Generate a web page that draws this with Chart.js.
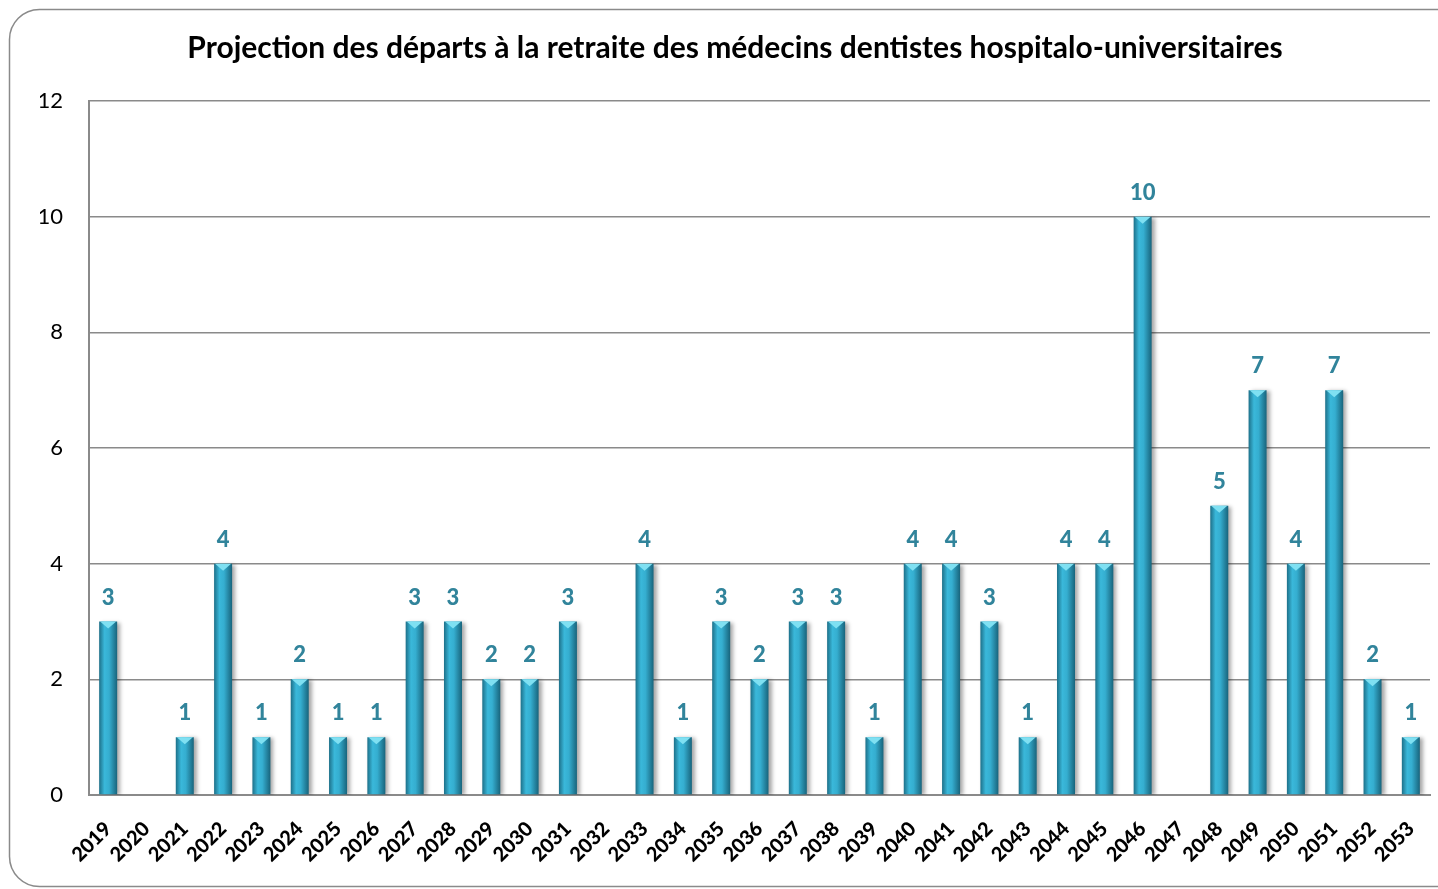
<!doctype html>
<html lang="fr">

<head>
    <meta charset="UTF-8" />
    <title>Projection des départs à la retraite</title>
    <script src="https://cdn.jsdelivr.net/npm/chart.js"></script>
    <style>
        html, body { margin: 0; padding: 0; background: #fff; }
        .chart-box { width: 1438px; height: 889px; position: relative; }
    </style>
</head>

<body>
    <div class="chart-box">
        <canvas id="retraiteChart"></canvas>
    </div>

    <script>
        // Data
        const years = ["2019", "2020", "2021", "2022", "2023", "2024", "2025", "2026", "2027", "2028",
            "2029", "2030", "2031", "2032", "2033", "2034", "2035", "2036", "2037", "2038",
            "2039", "2040", "2041", "2042", "2043", "2044", "2045", "2046", "2047", "2048",
            "2049", "2050", "2051", "2052", "2053"];
        const departs = [3, 0, 1, 4, 1, 2, 1, 1, 3, 3,
            2, 2, 3, 0, 4, 1, 3, 2, 3, 3,
            1, 4, 4, 3, 1, 4, 4, 10, 0, 5,
            7, 4, 7, 2, 1];
        const yTicks = [0, 2, 4, 6, 8, 10, 12];

        const chartTitle = "Projection des départs à la retraite des médecins dentistes hospitalo-universitaires";
        const FONT = "Lato, 'Open Sans', sans-serif";
        const BAR_PCT = 0.47;

        // horizontal cylinder-like gradient for every bar
        function barGradient(context) {
            const chart = context.chart;
            const x = chart.scales.x;
            if (!x || !chart.chartArea) return "#2ea3c4";
            const cx = x.getPixelForValue(context.dataIndex);
            const half = (x.width / years.length) * BAR_PCT / 2;
            const g = chart.ctx.createLinearGradient(cx - half, 0, cx + half, 0);
            g.addColorStop(0, "#1d7089");
            g.addColorStop(0.3, "#3ab8da");
            g.addColorStop(0.55, "#35aed0");
            g.addColorStop(1, "#18647c");
            return g;
        }

        const framePlugin = {
            id: "frame",
            beforeDraw(chart) {
                const ctx = chart.ctx;
                ctx.save();
                ctx.fillStyle = "#fff";
                ctx.fillRect(0, 0, chart.width, chart.height);
                ctx.strokeStyle = "#8a8a8a";
                ctx.lineWidth = 1.5;
                ctx.beginPath();
                ctx.roundRect(9.5, 9.5, chart.width + 40, chart.height - 12, 30);
                ctx.stroke();
                ctx.restore();
            },
            beforeDatasetsDraw(chart) {
                const ctx = chart.ctx;
                ctx.save();
                ctx.shadowColor = "rgba(0,0,0,0.35)";
                ctx.shadowOffsetX = 3;
                ctx.shadowOffsetY = 1;
                ctx.shadowBlur = 4;
            },
            afterDatasetsDraw(chart) {
                const ctx = chart.ctx;
                ctx.restore();
                const meta = chart.getDatasetMeta(0);
                ctx.save();
                meta.data.forEach((bar, i) => {
                    const v = departs[i];
                    if (!v) return;
                    // light cap on top of each bar
                    const w = bar.width;
                    ctx.fillStyle = "#7fe0f2";
                    ctx.beginPath();
                    ctx.moveTo(bar.x - w / 2 + 1, bar.y);
                    ctx.lineTo(bar.x + w / 2 - 1, bar.y);
                    ctx.lineTo(bar.x, bar.y + 7);
                    ctx.closePath();
                    ctx.fill();
                    // value label
                    ctx.fillStyle = "#31849b";
                    ctx.font = "900 22px " + FONT;
                    ctx.textAlign = "center";
                    ctx.textBaseline = "middle";
                    ctx.fillText(String(v), bar.x, bar.y - 24);
                });
                ctx.restore();
            }
        };

        new Chart(document.getElementById("retraiteChart"), {
            type: "bar",
            data: {
                labels: years,
                datasets: [{
                    label: "Départs",
                    data: departs,
                    backgroundColor: barGradient,
                    borderWidth: 0,
                    barPercentage: BAR_PCT,
                    categoryPercentage: 1
                }]
            },
            options: {
                responsive: true,
                maintainAspectRatio: false,
                animation: false,
                layout: { padding: { top: 30, left: 40, right: 8, bottom: 0 } },
                plugins: {
                    legend: { display: false },
                    tooltip: { enabled: false },
                    title: {
                        display: true,
                        text: chartTitle,
                        color: "#000",
                        font: { family: FONT, size: 30, weight: "bold" },
                        padding: { top: 0, bottom: 35 }
                    }
                },
                scales: {
                    x: {
                        grid: { display: false, drawTicks: false },
                        border: { color: "#8a8a8a", width: 2 },
                        ticks: {
                            color: "#000",
                            font: { family: FONT, size: 20, weight: "900" },
                            maxRotation: 45,
                            minRotation: 45,
                            autoSkip: false,
                            padding: 22
                        },
                        afterFit(scale) {
                            scale.height = 94;
                            scale.paddingLeft = 0;
                            scale.paddingRight = 0;
                        }
                    },
                    y: {
                        min: 0,
                        max: 12,
                        afterBuildTicks(scale) { scale.ticks = yTicks.map(v => ({ value: v })); },
                        grid: { color: "#8a8a8a", lineWidth: 1.5, drawTicks: false },
                        border: { color: "#8a8a8a", width: 2 },
                        ticks: {
                            color: "#000",
                            font: { family: FONT, size: 22 },
                            padding: 26
                        },
                        afterFit(scale) { scale.width = 49; }
                    }
                }
            },
            plugins: [framePlugin]
        });
    </script>
</body>

</html>
